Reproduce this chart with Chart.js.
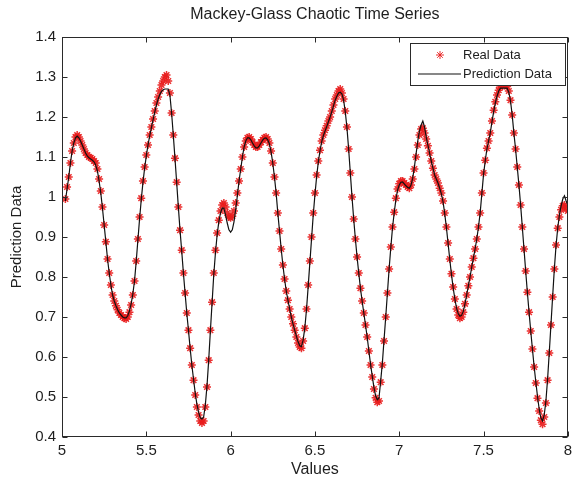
<!DOCTYPE html>
<html>
<head>
<meta charset="utf-8">
<script src="https://cdn.jsdelivr.net/npm/chart.js@4.4.0/dist/chart.umd.min.js"></script>
<style>
  html, body { margin: 0; padding: 0; background: #fff; }
</style>
</head>
<body>
<canvas id="mg" width="577" height="484"></canvas>
<script>
// sampling grid of the series (first sample at 5.02, one every 0.01)
const tStart = 5.02;
const tStep = 0.01;

// "Real Data" markers
const realData = [
  0.995, 1.025, 1.05, 1.085, 1.115, 1.135, 1.15, 1.155,            // 5.02-5.09
  1.15, 1.14, 1.13, 1.12, 1.11, 1.105, 1.10, 1.098, 1.095, 1.09,   // 5.10
  1.085, 1.07, 1.045, 1.015, 0.975, 0.93, 0.888, 0.845, 0.81, 0.78, // 5.20
  0.755, 0.74, 0.728, 0.718, 0.71, 0.705, 0.70, 0.697, 0.695, 0.70, // 5.30
  0.712, 0.73, 0.755, 0.79, 0.84, 0.895, 0.95, 0.997, 1.04, 1.075, // 5.40
  1.105, 1.13, 1.155, 1.175, 1.195, 1.215, 1.235, 1.25, 1.265, 1.28, // 5.50
  1.29, 1.30, 1.305, 1.29, 1.26, 1.21, 1.155, 1.097, 1.037, 0.975, // 5.60
  0.917, 0.867, 0.81, 0.76, 0.71, 0.667, 0.622, 0.58, 0.542, 0.505, // 5.70
  0.475, 0.455, 0.44, 0.435, 0.44, 0.475, 0.525, 0.592, 0.667, 0.737, // 5.80
  0.81, 0.867, 0.91, 0.942, 0.965, 0.98, 0.985, 0.975, 0.96, 0.95, // 5.90
  0.948, 0.952, 0.965, 0.985, 1.01, 1.04, 1.07, 1.10, 1.125, 1.14, // 6.00
  1.148, 1.15, 1.145, 1.137, 1.13, 1.125, 1.125, 1.13, 1.137, 1.143, // 6.10
  1.148, 1.15, 1.145, 1.135, 1.115, 1.085, 1.05, 1.01, 0.96, 0.915, // 6.20
  0.87, 0.83, 0.795, 0.765, 0.742, 0.72, 0.70, 0.683, 0.667, 0.65, // 6.30
  0.635, 0.625, 0.622, 0.64, 0.672, 0.72, 0.78, 0.84, 0.90, 0.96,  // 6.40
  1.01, 1.055, 1.09, 1.117, 1.14, 1.155, 1.167, 1.178, 1.19, 1.20, // 6.50
  1.215, 1.23, 1.245, 1.255, 1.265, 1.27, 1.26, 1.245, 1.215, 1.175, // 6.60
  1.12, 1.06, 1.00, 0.945, 0.895, 0.85, 0.81, 0.772, 0.74, 0.71,   // 6.70
  0.68, 0.65, 0.615, 0.58, 0.55, 0.52, 0.498, 0.487, 0.49, 0.537,  // 6.80
  0.58, 0.64, 0.70, 0.76, 0.82, 0.875, 0.925, 0.962, 0.997, 1.02,  // 6.90
  1.033, 1.04, 1.04, 1.035, 1.03, 1.025, 1.022, 1.03, 1.045, 1.07, // 7.00
  1.10, 1.13, 1.155, 1.17, 1.172, 1.16, 1.145, 1.128, 1.11, 1.09,  // 7.10
  1.072, 1.055, 1.045, 1.035, 1.022, 1.01, 0.99, 0.96, 0.925, 0.885, // 7.20
  0.845, 0.808, 0.775, 0.745, 0.72, 0.705, 0.697, 0.70, 0.712, 0.733, // 7.30
  0.755, 0.778, 0.80, 0.825, 0.847, 0.87, 0.895, 0.925, 0.96, 1.01, // 7.40
  1.06, 1.092, 1.122, 1.14, 1.16, 1.19, 1.217, 1.238, 1.255, 1.267, // 7.50
  1.275, 1.28, 1.282, 1.28, 1.276, 1.265, 1.242, 1.205, 1.16, 1.12, // 7.60
  1.075, 1.03, 0.98, 0.925, 0.87, 0.815, 0.762, 0.712, 0.665, 0.62, // 7.70
  0.575, 0.535, 0.497, 0.465, 0.442, 0.432, 0.45, 0.485, 0.542, 0.61, // 7.80
  0.68, 0.75, 0.82, 0.88, 0.922, 0.95, 0.968, 0.978, 0.98, 0.972,  // 7.90
  0.965                                                             // 8.00
];

// "Prediction Data" line
const predData = [
  0.99, 1.02, 1.05, 1.085, 1.115, 1.135, 1.148, 1.152,             // 5.02-5.09
  1.148, 1.14, 1.13, 1.12, 1.11, 1.103, 1.098, 1.095, 1.092, 1.088, // 5.10
  1.08, 1.065, 1.04, 1.01, 0.972, 0.93, 0.888, 0.845, 0.81, 0.78,  // 5.20
  0.755, 0.74, 0.728, 0.718, 0.71, 0.705, 0.70, 0.698, 0.698, 0.703, // 5.30
  0.715, 0.733, 0.757, 0.79, 0.838, 0.892, 0.945, 0.993, 1.036, 1.072, // 5.40
  1.103, 1.13, 1.153, 1.173, 1.193, 1.212, 1.23, 1.245, 1.256, 1.264, // 5.50
  1.268, 1.27, 1.27, 1.27, 1.255, 1.21, 1.155, 1.097, 1.037, 0.975, // 5.60
  0.917, 0.865, 0.81, 0.76, 0.71, 0.667, 0.622, 0.58, 0.545, 0.51, // 5.70
  0.482, 0.462, 0.448, 0.445, 0.45, 0.48, 0.528, 0.592, 0.665, 0.735, // 5.80
  0.805, 0.86, 0.905, 0.938, 0.96, 0.972, 0.972, 0.955, 0.935, 0.918, // 5.90
  0.912, 0.918, 0.938, 0.968, 1.003, 1.04, 1.07, 1.10, 1.125, 1.14, // 6.00
  1.148, 1.148, 1.143, 1.135, 1.128, 1.123, 1.123, 1.128, 1.135, 1.142, // 6.10
  1.147, 1.148, 1.143, 1.133, 1.113, 1.085, 1.05, 1.01, 0.96, 0.915, // 6.20
  0.87, 0.83, 0.795, 0.765, 0.742, 0.72, 0.70, 0.683, 0.667, 0.652, // 6.30
  0.638, 0.628, 0.626, 0.642, 0.672, 0.718, 0.776, 0.836, 0.895, 0.955, // 6.40
  1.005, 1.05, 1.087, 1.115, 1.138, 1.153, 1.165, 1.176, 1.188, 1.20, // 6.50
  1.213, 1.228, 1.242, 1.252, 1.26, 1.262, 1.258, 1.243, 1.213, 1.173, // 6.60
  1.12, 1.06, 1.00, 0.945, 0.895, 0.85, 0.81, 0.772, 0.74, 0.71,   // 6.70
  0.68, 0.65, 0.615, 0.582, 0.552, 0.524, 0.503, 0.493, 0.497, 0.54, // 6.80
  0.585, 0.643, 0.70, 0.76, 0.82, 0.873, 0.922, 0.96, 0.993, 1.017, // 6.90
  1.03, 1.037, 1.038, 1.033, 1.028, 1.024, 1.022, 1.03, 1.047, 1.075, // 7.00
  1.108, 1.14, 1.165, 1.18, 1.19, 1.175, 1.15, 1.13, 1.11, 1.09,   // 7.10
  1.072, 1.055, 1.045, 1.035, 1.022, 1.008, 0.988, 0.958, 0.923, 0.883, // 7.20
  0.843, 0.806, 0.773, 0.745, 0.722, 0.708, 0.702, 0.704, 0.714, 0.733, // 7.30
  0.755, 0.778, 0.80, 0.825, 0.847, 0.87, 0.895, 0.925, 0.96, 1.008, // 7.40
  1.056, 1.09, 1.12, 1.14, 1.16, 1.188, 1.213, 1.235, 1.252, 1.265, // 7.50
  1.272, 1.272, 1.272, 1.272, 1.272, 1.262, 1.24, 1.205, 1.16, 1.12, // 7.60
  1.075, 1.03, 0.98, 0.925, 0.87, 0.815, 0.762, 0.712, 0.665, 0.62, // 7.70
  0.577, 0.538, 0.502, 0.47, 0.448, 0.44, 0.455, 0.49, 0.545, 0.612, // 7.80
  0.682, 0.752, 0.82, 0.878, 0.922, 0.955, 0.978, 0.995, 1.003, 0.99, // 7.90
  0.98                                                              // 8.00
];

const xTicks = [5, 5.5, 6, 6.5, 7, 7.5, 8];
const yTicks = [0.4, 0.5, 0.6, 0.7, 0.8, 0.9, 1, 1.1, 1.2, 1.3, 1.4];

const times = realData.map((_, i) => +(tStart + i * tStep).toFixed(2));
const toPoints = arr => arr.map((v, i) => ({ x: times[i], y: v }));

const fontFam = '"Liberation Sans", Arial, sans-serif';
const textCol = '#1e1e1e';
const starRed = 'rgba(232, 28, 28, 0.9)';

// MATLAB-ish box with inward ticks, title and legend
const matlabFrame = {
  id: 'matlabFrame',
  afterDraw(chart) {
    const { ctx, chartArea: a, scales: { x, y } } = chart;
    ctx.save();
    ctx.strokeStyle = '#2a2a2a';
    ctx.lineWidth = 1;
    const L = Math.round(a.left) + 0.5, R = Math.round(a.right) - 0.5;
    const T = Math.round(a.top) + 0.5, B = Math.round(a.bottom) - 0.5;
    ctx.strokeRect(L, T, R - L, B - T);

    ctx.beginPath();
    xTicks.forEach(v => {
      const px = Math.round(x.getPixelForValue(v)) + 0.5;
      ctx.moveTo(px, B); ctx.lineTo(px, B - 5);
      ctx.moveTo(px, T); ctx.lineTo(px, T + 5);
    });
    yTicks.forEach(v => {
      const py = Math.round(y.getPixelForValue(v)) + 0.5;
      ctx.moveTo(L, py); ctx.lineTo(L + 5, py);
      ctx.moveTo(R, py); ctx.lineTo(R - 5, py);
    });
    ctx.stroke();

    // title
    ctx.fillStyle = textCol;
    ctx.font = '16px ' + fontFam;
    ctx.textAlign = 'center';
    ctx.textBaseline = 'middle';
    ctx.fillText('Mackey-Glass Chaotic Time Series', (a.left + a.right) / 2, 15);

    // legend
    const lx = 410.5, ly = 43.5, lw = 155, lh = 42;
    ctx.fillStyle = '#fff';
    ctx.fillRect(lx, ly, lw, lh);
    ctx.strokeStyle = '#2a2a2a';
    ctx.strokeRect(lx, ly, lw, lh);
    ctx.strokeStyle = starRed;
    ctx.fillStyle = starRed;
    Chart.helpers.drawPoint(ctx, { pointStyle: 'star', radius: 4, borderWidth: 1.5, rotation: 0 }, 440, 55);
    ctx.strokeStyle = '#111';
    ctx.lineWidth = 1.2;
    ctx.beginPath();
    ctx.moveTo(418, 74); ctx.lineTo(461, 74);
    ctx.stroke();
    ctx.fillStyle = textCol;
    ctx.font = '13px ' + fontFam;
    ctx.textAlign = 'left';
    ctx.fillText('Real Data', 463, 55);
    ctx.fillText('Prediction Data', 463, 74);
    ctx.restore();
  }
};

new Chart(document.getElementById('mg').getContext('2d'), {
  type: 'line',
  data: {
    datasets: [
      {
        label: 'Prediction Data',
        data: toPoints(predData),
        borderColor: '#111',
        borderWidth: 1.2,
        pointRadius: 0,
        tension: 0,
        fill: false
      },
      {
        label: 'Real Data',
        data: toPoints(realData),
        showLine: false,
        pointStyle: 'star',
        pointRadius: 4,
        pointBorderWidth: 1.5,
        pointBorderColor: starRed,
        pointBackgroundColor: starRed
      }
    ]
  },
  options: {
    responsive: false,
    animation: false,
    events: [],
    layout: { padding: { top: 37, right: 6, left: 0, bottom: 0 } },
    plugins: { legend: { display: false }, tooltip: { enabled: false } },
    scales: {
      x: {
        type: 'linear', min: 5, max: 8,
        afterBuildTicks: s => { s.ticks = xTicks.map(v => ({ value: v })); },
        afterFit: s => { s.height = 47; },
        grid: { display: false, drawTicks: false },
        border: { display: false },
        ticks: { color: textCol, font: { family: fontFam, size: 15 }, padding: 5, maxRotation: 0,
                 callback: v => String(v) },
        title: { display: true, text: 'Values', color: textCol, font: { family: fontFam, size: 16 }, padding: { top: 0, bottom: 5 } }
      },
      y: {
        min: 0.4, max: 1.4,
        afterBuildTicks: s => { s.ticks = yTicks.map(v => ({ value: v })); },
        afterFit: s => { s.width = 62; },
        grid: { display: false, drawTicks: false },
        border: { display: false },
        ticks: { color: textCol, font: { family: fontFam, size: 15 }, padding: 6,
                 callback: v => String(v) },
        title: { display: true, text: 'Prediction Data', color: textCol, font: { family: fontFam, size: 15 }, padding: { top: 8, bottom: 0 } }
      }
    }
  },
  plugins: [matlabFrame]
});
</script>
</body>
</html>
